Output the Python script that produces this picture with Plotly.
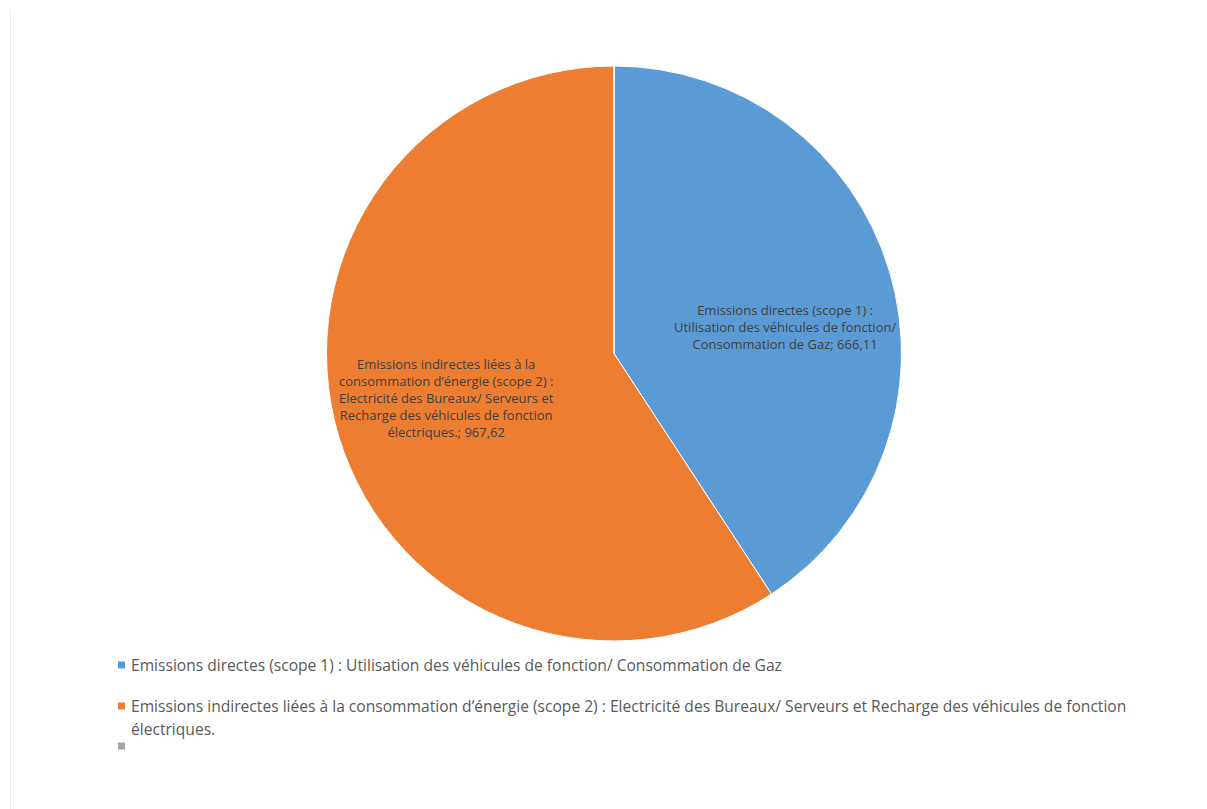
import textwrap
import plotly.graph_objects as go

categories = [
    "Emissions directes (scope 1) : Utilisation des véhicules de fonction/ Consommation de Gaz",
    "Emissions indirectes liées à la consommation d’énergie (scope 2) : Electricité des Bureaux/ Serveurs et Recharge des véhicules de fonction électriques.",
    "",
]
values = [666.11, 967.62, 0]
value_labels = ["666,11", "967,62", ""]
slice_texts = [
    "Emissions directes (scope 1) :<br>Utilisation des véhicules de fonction/<br>Consommation de Gaz; 666,11",
    "Emissions indirectes liées à la<br>consommation d’énergie (scope 2) :<br>Electricité des Bureaux/ Serveurs et<br>Recharge des véhicules de fonction<br>électriques.; 967,62",
    "",
]
colors = ["#5B9BD5", "#ED7D31", "#A5A5A5"]

W, H = 1207, 809
FONT = "Open Sans"

fig = go.Figure()
fig.add_trace(go.Pie(
    labels=categories,
    values=values,
    textinfo="none",
    marker=dict(colors=colors, line=dict(color="white", width=1)),
    sort=False,
    direction="clockwise",
    rotation=0,
    showlegend=False,
    hoverinfo="label+value",
    domain=dict(x=[326 / W, 902 / W], y=[1 - 641 / H, 1 - 66 / H]),
))

shapes = []
annotations = []

# data labels placed inside the slices (pixel centres of the label boxes)
label_centres = [(785, 327), (447, 398), None]
for txt, pos in zip(slice_texts, label_centres):
    if not txt or pos is None:
        continue
    annotations.append(dict(text=txt, xref="paper", yref="paper",
                            x=pos[0] / W, y=1 - pos[1] / H,
                            xanchor="center", yanchor="middle", align="center",
                            showarrow=False,
                            font=dict(family=FONT, size=13, color="#404040")))

# Legend drawn below the pie
row_y = [665, 706, 746]
line_gap = 23
for i, (cat, col) in enumerate(zip(categories, colors)):
    y = row_y[i]
    shapes.append(dict(type="rect", xref="paper", yref="paper",
                       x0=118 / W, x1=125 / W, y0=1 - (y + 3.5) / H, y1=1 - (y - 3.5) / H,
                       fillcolor=col, line=dict(width=0)))
    lines = textwrap.wrap(cat, width=140) if cat else []
    for j, ln in enumerate(lines):
        annotations.append(dict(text=ln, xref="paper", yref="paper",
                                x=129 / W, y=1 - (y + j * line_gap) / H,
                                xanchor="left", yanchor="middle", showarrow=False,
                                font=dict(family=FONT, size=15.6, color="#595959")))

# faint chart-area border on the left
shapes.append(dict(type="line", xref="paper", yref="paper",
                   x0=10.5 / W, x1=10.5 / W, y0=0, y1=1 - 10 / H,
                   line=dict(color="#ebebeb", width=1)))

fig.update_layout(
    width=W, height=H,
    margin=dict(l=0, r=0, t=0, b=0),
    paper_bgcolor="white",
    plot_bgcolor="white",
    shapes=shapes,
    annotations=annotations,
    font=dict(family=FONT),
)

fig.write_html("out.html")
